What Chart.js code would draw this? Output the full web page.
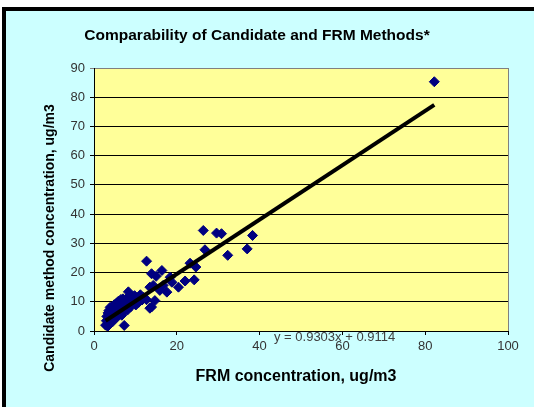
<!DOCTYPE html>
<html>
<head>
<meta charset="utf-8">
<script src="https://cdn.jsdelivr.net/npm/chart.js@4.4.0/dist/chart.umd.min.js"></script>
<style>
  html, body { margin: 0; padding: 0; background: #fff; }
  #wrap { width: 534px; height: 407px; }
</style>
</head>
<body>
<div id="wrap"><canvas id="chart" width="534" height="407"></canvas></div>
<script>
// Chart data
const frmValues = [
  2.8, 3.0, 3.1, 3.3, 3.4, 3.5, 3.6, 3.7, 3.8, 3.9, 4.0, 4.1, 4.2, 4.3, 4.4, 4.5,
  4.6, 4.7, 4.8, 4.9, 5.0, 5.1, 5.2, 5.3, 5.4, 5.5, 5.6, 5.7, 5.8, 5.9, 6.0, 6.1,
  6.2, 6.3, 6.4, 6.5, 6.6, 6.7, 6.8, 6.9, 7.0, 7.1, 7.2, 7.3, 7.4, 7.5, 7.6, 7.8,
  8.0, 8.1, 8.3, 8.4, 8.6, 8.8, 9.0, 9.2, 9.5, 9.8, 10.1, 10.4, 10.8, 11.2, 11.6, 12.0,
  12.7, 12.7, 13.5, 13.5, 13.9, 13.9, 14.3, 14.7, 15.0, 15.9, 16.4, 16.7, 17.6, 18.4,
  18.8, 20.4, 22.0, 23.2, 24.2, 24.6, 26.4, 26.8, 29.6, 30.8, 32.3, 37.0, 38.3, 82.2
];
const candidateValues = [
  2.0, 3.5, 5.0, 1.6, 6.2, 4.1, 7.0, 2.8, 5.5, 8.1, 3.6, 6.5, 4.8, 7.6, 5.9, 3.2,
  8.4, 6.8, 5.1, 9.0, 7.3, 4.4, 6.0, 8.8, 5.6, 9.6, 7.8, 4.9, 6.9, 10.2, 8.3, 5.7,
  7.1, 9.4, 6.3, 10.8, 8.0, 5.4, 9.1, 7.5, 11.0, 8.7, 6.6, 1.9, 9.9, 7.9, 10.4, 8.5,
  11.3, 7.2, 13.4, 9.3, 10.7, 8.2, 11.8, 9.6, 10.3, 12.1, 8.9, 11.0, 9.8, 12.4, 10.6, 11.5,
  23.9, 10.7, 15.0, 7.8, 19.6, 8.2, 15.6, 10.4, 18.7, 13.9, 20.7, 15.6, 13.3, 18.4,
  16.7, 15.0, 17.1, 23.2, 17.5, 21.9, 34.4, 27.8, 33.5, 33.3, 25.9, 28.1, 32.7, 85.3
];
// least-squares trend line end points (y = 0.9303x + 0.9114)
const trendX = [2.8, 82.2];
const trendY = [3.5, 77.4];
const xTicks = [0, 20, 40, 60, 80, 100];
const yTicks = [0, 10, 20, 30, 40, 50, 60, 70, 80, 90];

const FONT = '"Liberation Sans", Arial, sans-serif';

// Background, frame, plot area and the free text
const backdrop = {
  id: 'backdrop',
  beforeDraw(chart) {
    const { ctx, chartArea: a } = chart;
    ctx.save();
    ctx.fillStyle = '#ffffff';
    ctx.fillRect(0, 0, chart.width, chart.height);
    ctx.fillStyle = '#ccffff';
    ctx.fillRect(2, 7, chart.width - 2, chart.height - 7);
    ctx.fillStyle = '#000000';
    ctx.fillRect(2, 7, 4, chart.height - 7);
    ctx.fillRect(2, 7, chart.width - 2, 4);
    ctx.fillStyle = '#ffff99';
    ctx.fillRect(a.left, a.top, a.right - a.left, a.bottom - a.top);
    ctx.strokeStyle = '#808080';
    ctx.lineWidth = 1;
    ctx.strokeRect(a.left + 0.5, a.top + 0.5, a.right - a.left, a.bottom - a.top);
    ctx.restore();
  },
  afterDraw(chart) {
    const { ctx } = chart;
    ctx.save();
    ctx.fillStyle = '#000000';
    ctx.textAlign = 'center';
    ctx.textBaseline = 'middle';
    ctx.font = 'bold 15.5px ' + FONT;
    ctx.fillText('Comparability of Candidate and FRM Methods*', 257, 36);
    ctx.font = 'bold 16px ' + FONT;
    ctx.fillText('FRM concentration, ug/m3', 296, 377);
    ctx.font = 'bold 14px ' + FONT;
    ctx.translate(50, 238);
    ctx.rotate(-Math.PI / 2);
    ctx.fillText('Candidate method concentration, ug/m3', 0, 0);
    ctx.restore();

    // trend line equation label
    ctx.save();
    ctx.fillStyle = '#404040';
    ctx.font = '13px ' + FONT;
    ctx.textAlign = 'left';
    ctx.textBaseline = 'middle';
    ctx.fillText('y = 0.9303x + 0.9114', 274, 337);
    ctx.restore();
  }
};

new Chart(document.getElementById('chart'), {
  type: 'scatter',
  data: {
    datasets: [
      {
        label: 'Candidate vs FRM',
        data: frmValues.map((x, i) => ({ x, y: candidateValues[i] })),
        pointStyle: 'rectRot',
        pointRadius: 5,
        backgroundColor: '#000080',
        borderColor: '#000080',
        borderWidth: 1,
        order: 2
      },
      {
        type: 'line',
        label: 'Linear trend',
        data: trendX.map((x, i) => ({ x, y: trendY[i] })),
        borderColor: '#000000',
        borderWidth: 4,
        pointRadius: 0,
        fill: false,
        order: 1
      }
    ]
  },
  options: {
    responsive: false,
    animation: false,
    devicePixelRatio: 1,
    layout: { padding: { top: 68, left: 0, right: 26, bottom: 0 } },
    plugins: {
      legend: { display: false },
      tooltip: { enabled: false },
      title: { display: false }
    },
    scales: {
      x: {
        type: 'linear',
        min: 0,
        max: 100,
        afterFit(scale) { scale.height = 76; },
        afterBuildTicks(scale) { scale.ticks = xTicks.map(v => ({ value: v })); },
        grid: { drawOnChartArea: false, drawTicks: true, tickLength: 4, color: '#000000' },
        border: { color: '#000000' },
        ticks: {
          color: '#333333',
          padding: 4,
          maxRotation: 0,
          font: { family: FONT, size: 13 }
        }
      },
      y: {
        type: 'linear',
        min: 0,
        max: 90,
        afterFit(scale) { scale.width = 94; },
        afterBuildTicks(scale) { scale.ticks = yTicks.map(v => ({ value: v })); },
        grid: {
          drawTicks: true,
          tickLength: 4,
          color: ctx => (ctx.tick && ctx.tick.value === 90 ? '#808080' : '#000000')
        },
        border: { color: '#000000' },
        ticks: {
          color: '#333333',
          padding: 5,
          font: { family: FONT, size: 13 }
        }
      }
    }
  },
  plugins: [backdrop]
});
</script>
</body>
</html>
